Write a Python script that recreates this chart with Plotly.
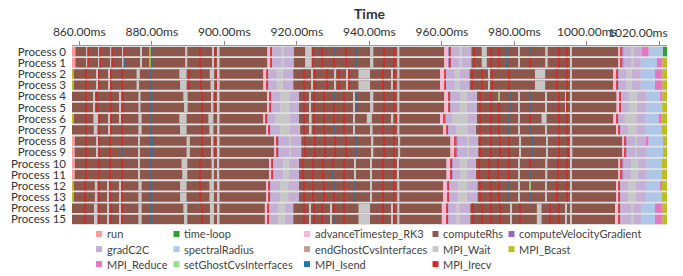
import plotly.graph_objects as go

# ---------------- data ----------------
process_labels = ["Process %d" % i for i in range(16)]

function_names = {
    "R": "run", "T": "time-loop", "A": "advanceTimestep_RK3", "C": "computeRhs",
    "V": "computeVelocityGradient", "G": "gradC2C", "S": "spectralRadius",
    "E": "endGhostCvsInterfaces", "W": "MPI_Wait", "B": "MPI_Bcast",
    "D": "MPI_Reduce", "X": "setGhostCvsInterfaces", "I": "MPI_Isend", "Q": "MPI_Irecv",
}
function_colors = {
    "R": "#ff9896", "T": "#2ca02c", "A": "#f7b6d2", "C": "#8c564b",
    "V": "#9467bd", "G": "#c5b0d5", "S": "#aec7e8", "E": "#c49c94",
    "W": "#c7c7c7", "B": "#bcbd22", "D": "#e377c2", "X": "#98df8a",
    "I": "#1f77b4", "Q": "#d62728",
}
legend_order = ["R", "T", "A", "C", "V", "G", "S", "E", "W", "B", "D", "X", "I", "Q"]

tick_values = [860, 880, 900, 920, 940, 960, 980, 1000, 1020]
tick_labels = ["860.00ms", "880.00ms", "900.00ms", "920.00ms", "940.00ms",
               "960.00ms", "980.00ms", "1000.00ms", "1020.00ms"]

# (start ms, end ms, function code)
p0 = [
    (858.0, 858.9, "R"), (858.9, 911.9, "C"),
    (862.0, 862.2, "W"), (862.2, 862.5, "Q"), (865.3, 865.5, "W"), (865.5, 865.8, "Q"),
    (868.7, 868.9, "W"), (868.9, 869.2, "Q"), (871.9, 872.1, "W"), (872.1, 872.4, "Q"),
    (876.9, 877.3, "W"), (879.5, 879.7, "B"), (879.7, 880.3, "I"), (889.2, 889.8, "W"),
    (893.3, 893.6, "Q"), (896.8, 897.2, "W"), (897.4, 897.7, "Q"), (898.2, 898.7, "W"),
    (911.9, 912.7, "A"), (912.7, 913.0, "Q"), (913.0, 913.1, "V"),
    (913.1, 915.8, "G"), (915.8, 916.3, "W"), (916.3, 919.1, "G"),
    (919.1, 960.7, "C"),
    (922.3, 924.1, "W"), (924.4, 924.7, "Q"), (926.7, 927.0, "Q"), (930.1, 930.4, "I"),
    (933.3, 933.6, "Q"), (936.1, 936.5, "I"), (940.2, 941.1, "W"), (943.9, 944.2, "Q"),
    (946.6, 947.0, "Q"), (947.7, 948.3, "W"),
    (960.7, 961.8, "A"), (961.8, 962.1, "V"), (962.1, 962.4, "Q"),
    (962.4, 965.0, "G"), (965.0, 965.5, "W"), (965.5, 968.1, "G"),
    (968.1, 1008.7, "C"),
    (968.7, 969.0, "Q"), (971.0, 972.4, "W"), (973.3, 973.6, "Q"), (975.6, 975.9, "Q"),
    (977.9, 978.3, "I"), (981.1, 981.4, "W"), (984.3, 984.7, "I"), (988.5, 989.2, "W"),
    (992.1, 992.4, "Q"), (994.4, 994.8, "Q"), (995.4, 995.8, "W"),
    (1008.7, 1009.3, "A"), (1009.3, 1009.7, "Q"), (1009.7, 1010.1, "V"),
    (1010.1, 1012.4, "G"), (1012.4, 1012.8, "W"), (1012.8, 1015.1, "G"),
    (1015.1, 1017.0, "D"), (1017.0, 1021.0, "S"), (1021.0, 1022.2, "T"),
]
p1 = [
    (858.0, 858.9, "R"), (858.9, 911.9, "C"),
    (862.0, 862.2, "W"), (862.2, 862.5, "Q"), (865.3, 865.5, "W"), (865.5, 865.8, "Q"),
    (868.7, 868.9, "W"), (868.9, 869.2, "Q"), (871.9, 872.1, "W"), (872.1, 872.5, "I"),
    (876.9, 877.3, "W"), (879.5, 879.7, "B"), (879.7, 880.3, "I"), (889.2, 889.8, "W"),
    (893.3, 893.6, "Q"), (896.8, 897.2, "W"), (897.4, 897.7, "Q"), (898.2, 898.7, "W"),
    (911.9, 912.7, "A"), (912.7, 913.0, "Q"), (913.0, 913.1, "V"),
    (913.1, 915.8, "G"), (915.8, 916.3, "W"), (916.3, 919.1, "G"),
    (919.1, 960.7, "C"),
    (922.3, 924.1, "W"), (924.4, 924.7, "Q"), (926.7, 927.0, "Q"), (930.1, 930.4, "Q"),
    (933.3, 933.6, "Q"), (936.1, 936.5, "I"), (940.2, 941.1, "W"), (943.9, 944.2, "Q"),
    (946.6, 947.0, "Q"), (947.7, 948.3, "W"),
    (960.7, 961.8, "A"), (961.8, 962.1, "V"), (962.1, 962.4, "Q"),
    (962.4, 965.0, "G"), (965.0, 965.5, "W"), (965.5, 968.1, "G"),
    (968.1, 1008.7, "C"),
    (968.7, 969.0, "Q"), (971.0, 972.4, "W"), (973.3, 973.6, "Q"), (975.6, 975.9, "Q"),
    (977.9, 978.3, "I"), (981.1, 981.4, "W"), (984.3, 984.7, "Q"), (988.5, 989.2, "W"),
    (992.1, 992.4, "Q"), (994.4, 994.8, "Q"), (995.4, 995.8, "W"),
    (1008.7, 1009.3, "A"), (1009.3, 1009.7, "Q"), (1009.7, 1010.1, "V"),
    (1010.1, 1012.4, "G"), (1012.4, 1012.8, "W"), (1012.8, 1015.1, "G"),
    (1015.1, 1019.3, "S"), (1019.3, 1020.8, "D"), (1020.8, 1022.2, "B"),
]
p2 = [
    (857.8, 858.4, "B"), (858.4, 910.8, "C"),
    (861.8, 862.1, "Q"), (864.8, 865.1, "W"), (865.25, 865.5, "Q"), (868.0, 868.3, "W"),
    (868.5, 868.8, "Q"), (871.7, 872.0, "Q"), (875.8, 876.7, "W"), (879.3, 879.8, "I"),
    (887.6, 889.6, "W"), (890.1, 890.4, "Q"), (893.5, 893.8, "Q"), (896.0, 897.2, "W"),
    (897.6, 897.9, "Q"), (898.2, 898.7, "W"),
    (910.8, 911.6, "A"), (911.6, 911.9, "Q"), (911.9, 912.1, "V"),
    (912.1, 914.5, "G"), (914.5, 916.1, "W"), (916.1, 919.0, "G"),
    (919.0, 959.5, "C"),
    (921.8, 922.1, "Q"), (924.1, 924.3, "W"), (925.0, 925.3, "Q"), (928.2, 928.5, "Q"),
    (930.5, 930.8, "W"), (931.45, 931.75, "Q"), (933.75, 934.0, "W"), (934.2, 934.5, "Q"),
    (937.0, 940.2, "W"), (943.7, 944.0, "Q"), (946.2, 946.4, "W"), (946.6, 946.9, "Q"),
    (947.7, 948.3, "W"),
    (959.5, 960.6, "A"), (960.6, 960.9, "Q"), (960.9, 961.1, "V"),
    (961.1, 963.6, "G"), (963.6, 964.9, "W"), (964.9, 967.6, "G"),
    (967.6, 1007.3, "C"),
    (968.2, 968.5, "Q"), (971.0, 971.3, "Q"), (972.8, 973.3, "W"), (973.75, 974.05, "Q"),
    (978.35, 978.65, "Q"), (985.7, 988.5, "W"), (991.7, 992.0, "Q"), (994.4, 994.7, "Q"),
    (995.4, 995.8, "W"),
    (1007.3, 1008.2, "A"), (1008.2, 1008.5, "Q"), (1008.5, 1008.7, "V"),
    (1008.7, 1011.0, "G"), (1011.0, 1012.4, "W"), (1012.4, 1014.9, "G"),
    (1014.9, 1018.8, "S"), (1018.8, 1020.8, "D"), (1020.8, 1022.2, "B"),
]
p3 = [
    (857.8, 858.4, "B"), (858.4, 910.8, "C"),
    (861.8, 862.1, "Q"), (864.8, 865.1, "W"), (865.25, 865.5, "Q"), (868.0, 868.3, "W"),
    (868.5, 868.8, "Q"), (871.7, 872.0, "Q"), (875.8, 876.5, "W"), (879.3, 879.8, "I"),
    (887.8, 889.6, "W"), (890.1, 890.4, "Q"), (893.5, 893.8, "Q"), (896.2, 897.2, "W"),
    (897.6, 897.9, "Q"), (898.2, 898.7, "W"),
    (910.8, 911.6, "A"), (911.6, 911.9, "Q"), (911.9, 912.1, "V"),
    (912.1, 914.5, "G"), (914.5, 916.1, "W"), (916.1, 919.0, "G"),
    (919.0, 959.5, "C"),
    (921.8, 922.1, "Q"), (924.1, 924.3, "W"), (925.0, 925.3, "Q"), (928.2, 928.5, "Q"),
    (930.5, 930.8, "W"), (931.45, 931.75, "Q"), (933.75, 934.0, "W"), (934.2, 934.5, "Q"),
    (937.0, 940.2, "W"), (943.7, 944.0, "Q"), (946.2, 946.4, "W"), (946.6, 946.9, "Q"),
    (947.7, 948.3, "W"),
    (959.5, 960.6, "A"), (960.6, 960.9, "Q"), (960.9, 961.1, "V"),
    (961.1, 963.6, "G"), (963.6, 964.9, "W"), (964.9, 967.6, "G"),
    (967.6, 1007.3, "C"),
    (968.2, 968.5, "Q"), (971.0, 971.3, "Q"), (972.8, 973.3, "W"), (973.75, 974.05, "Q"),
    (978.35, 978.65, "Q"), (985.7, 988.5, "W"), (991.7, 992.0, "Q"), (994.4, 994.7, "Q"),
    (995.4, 995.8, "W"),
    (1007.3, 1008.2, "A"), (1008.2, 1008.5, "Q"), (1008.5, 1008.7, "V"),
    (1008.7, 1011.0, "G"), (1011.0, 1012.4, "W"), (1012.4, 1014.9, "G"),
    (1014.9, 1018.8, "S"), (1018.8, 1020.8, "D"), (1020.8, 1022.2, "B"),
]
p4 = [
    (858.0, 911.9, "C"),
    (861.6, 861.9, "Q"), (863.9, 864.3, "W"), (864.8, 865.1, "Q"), (868.5, 868.8, "Q"),
    (871.2, 871.4, "W"), (871.96, 872.3, "Q"), (876.3, 876.9, "W"), (879.5, 880.2, "I"),
    (888.7, 889.9, "W"), (893.75, 894.05, "Q"), (896.5, 897.0, "W"), (897.4, 897.7, "Q"),
    (898.2, 898.7, "W"),
    (911.9, 912.4, "A"), (912.4, 912.7, "Q"), (912.7, 913.0, "V"),
    (913.0, 915.4, "G"), (915.4, 917.9, "W"), (917.9, 920.6, "G"),
    (920.6, 960.7, "C"),
    (921.8, 922.1, "Q"), (923.6, 923.9, "W"), (924.56, 924.9, "Q"), (927.3, 927.6, "Q"),
    (930.07, 930.4, "I"), (932.8, 933.1, "Q"), (935.6, 935.9, "W"), (936.05, 936.4, "I"),
    (940.2, 941.1, "W"), (943.87, 944.2, "Q"), (946.6, 946.9, "Q"), (947.7, 948.3, "W"),
    (960.7, 961.8, "A"), (961.8, 962.1, "Q"), (962.1, 962.4, "V"),
    (962.4, 965.0, "G"), (965.0, 966.9, "W"), (966.9, 969.6, "G"),
    (969.6, 1008.2, "C"),
    (970.5, 970.8, "Q"), (973.3, 973.6, "Q"), (975.6, 975.9, "X"), (978.8, 979.1, "I"),
    (981.1, 981.4, "W"), (984.3, 984.6, "I"), (988.5, 988.9, "W"), (992.1, 992.4, "Q"),
    (994.0, 994.2, "W"), (994.44, 994.7, "Q"), (995.4, 995.8, "W"),
    (1008.2, 1008.9, "A"), (1008.9, 1009.2, "Q"), (1009.2, 1009.4, "V"),
    (1009.4, 1011.6, "G"), (1011.6, 1013.75, "W"), (1013.75, 1016.5, "G"),
    (1016.5, 1020.2, "S"), (1020.2, 1020.8, "D"), (1020.8, 1022.2, "B"),
]
p5 = [
    (858.0, 911.9, "C"),
    (861.6, 861.9, "Q"), (863.9, 864.3, "W"), (864.8, 865.1, "Q"), (868.5, 868.8, "Q"),
    (871.2, 871.4, "W"), (871.96, 872.3, "Q"), (876.3, 876.9, "W"), (879.5, 880.2, "I"),
    (888.9, 889.9, "W"), (893.75, 894.05, "Q"), (896.5, 897.0, "W"), (897.4, 897.7, "Q"),
    (898.2, 898.7, "W"),
    (911.9, 912.4, "A"), (912.4, 912.7, "Q"), (912.7, 913.0, "V"),
    (913.0, 915.4, "G"), (915.4, 917.9, "W"), (917.9, 920.6, "G"),
    (920.6, 960.7, "C"),
    (921.8, 922.1, "Q"), (923.6, 923.9, "W"), (924.56, 924.9, "Q"), (927.3, 927.6, "Q"),
    (930.07, 930.4, "Q"), (932.8, 933.1, "Q"), (935.6, 935.9, "W"), (936.05, 936.4, "I"),
    (940.2, 941.1, "W"), (943.87, 944.2, "Q"), (946.6, 946.9, "Q"), (947.7, 948.3, "W"),
    (960.7, 961.8, "A"), (961.8, 962.1, "Q"), (962.1, 962.4, "V"),
    (962.4, 965.0, "G"), (965.0, 966.9, "W"), (966.9, 969.6, "G"),
    (969.6, 1008.2, "C"),
    (970.5, 970.8, "Q"), (973.3, 973.6, "Q"), (975.6, 975.9, "Q"), (978.8, 979.1, "I"),
    (981.1, 981.4, "W"), (984.3, 984.6, "I"), (988.5, 988.9, "W"), (992.1, 992.4, "Q"),
    (994.0, 994.2, "W"), (994.44, 994.7, "Q"), (995.4, 995.8, "W"),
    (1008.2, 1008.9, "A"), (1008.9, 1009.2, "Q"), (1009.2, 1009.4, "V"),
    (1009.4, 1011.6, "G"), (1011.6, 1013.75, "W"), (1013.75, 1016.5, "G"),
    (1016.5, 1020.8, "S"), (1020.8, 1022.2, "B"),
]
p6 = [
    (857.8, 858.4, "B"), (858.4, 910.8, "C"),
    (861.6, 861.9, "Q"), (863.9, 865.2, "W"), (865.25, 865.55, "Q"), (868.0, 868.3, "W"),
    (868.5, 868.8, "Q"), (871.2, 871.4, "W"), (871.7, 872.0, "Q"), (876.3, 877.2, "W"),
    (879.6, 880.1, "I"), (887.6, 889.6, "W"), (893.75, 894.05, "Q"), (895.6, 897.0, "W"),
    (898.2, 898.7, "W"),
    (910.8, 911.4, "A"), (911.4, 911.7, "Q"), (911.7, 912.0, "V"),
    (912.0, 914.0, "G"), (914.0, 918.1, "W"), (918.1, 920.6, "G"),
    (920.6, 959.5, "C"),
    (921.8, 922.1, "Q"), (923.6, 924.1, "W"), (924.56, 924.9, "Q"), (927.3, 927.6, "Q"),
    (930.1, 930.4, "Q"), (932.8, 933.1, "Q"), (935.6, 936.0, "W"), (939.3, 940.7, "W"),
    (943.7, 944.0, "Q"), (946.2, 946.6, "W"), (947.1, 947.4, "Q"), (947.7, 948.3, "W"),
    (959.5, 960.4, "A"), (960.4, 960.9, "Q"), (960.9, 961.15, "V"),
    (961.15, 963.0, "G"), (963.0, 967.0, "W"), (967.0, 969.6, "G"),
    (969.6, 1007.3, "C"),
    (970.5, 970.8, "Q"), (973.3, 973.6, "Q"), (975.6, 975.9, "Q"), (978.0, 978.3, "I"),
    (981.1, 981.4, "W"), (984.3, 984.6, "Q"), (987.5, 988.9, "W"), (992.1, 992.4, "Q"),
    (994.44, 994.7, "Q"), (995.4, 995.8, "W"),
    (1007.3, 1008.2, "A"), (1008.2, 1008.5, "Q"), (1008.5, 1008.7, "V"),
    (1008.7, 1010.5, "G"), (1010.5, 1013.6, "W"), (1013.6, 1016.05, "G"),
    (1016.05, 1019.8, "S"), (1019.8, 1020.65, "D"), (1020.65, 1022.2, "B"),
]
p7 = [
    (858.0, 911.7, "C"),
    (861.6, 861.9, "Q"), (864.0, 865.0, "W"), (865.25, 865.55, "Q"), (868.0, 868.3, "W"),
    (868.5, 868.8, "Q"), (871.7, 872.0, "Q"), (876.3, 877.2, "W"), (879.6, 880.1, "I"),
    (887.8, 889.6, "W"), (893.75, 894.05, "Q"), (895.9, 897.0, "W"), (898.2, 898.7, "W"),
    (911.7, 912.2, "A"), (912.2, 912.5, "Q"), (912.5, 912.7, "V"),
    (912.7, 915.4, "G"), (915.4, 918.1, "W"), (918.1, 920.9, "G"),
    (920.9, 960.4, "C"),
    (921.8, 922.1, "Q"), (923.6, 924.1, "W"), (924.56, 924.9, "Q"), (927.3, 927.6, "Q"),
    (930.1, 930.4, "I"), (932.8, 933.1, "Q"), (935.6, 936.0, "W"), (940.2, 940.9, "W"),
    (943.7, 944.0, "Q"), (946.6, 946.9, "Q"), (947.7, 948.3, "W"),
    (960.4, 961.15, "A"), (961.15, 961.5, "Q"), (961.5, 961.8, "V"),
    (961.8, 964.1, "G"), (964.1, 967.0, "W"), (967.0, 969.4, "G"),
    (969.4, 1008.05, "C"),
    (970.5, 970.8, "Q"), (973.3, 973.6, "Q"), (975.6, 975.9, "Q"), (978.0, 978.3, "I"),
    (981.1, 981.4, "W"), (984.3, 984.6, "I"), (988.5, 988.9, "W"), (992.1, 992.4, "Q"),
    (994.44, 994.7, "Q"), (995.4, 995.8, "W"),
    (1008.05, 1008.7, "A"), (1008.7, 1009.0, "Q"), (1009.0, 1009.15, "V"),
    (1009.15, 1011.45, "G"), (1011.45, 1013.6, "W"), (1013.6, 1016.05, "G"),
    (1016.05, 1020.65, "S"), (1020.65, 1022.2, "B"),
]
p8 = [
    (858.0, 858.7, "R"), (858.7, 913.8, "C"),
    (861.84, 862.1, "Q"), (864.8, 865.0, "W"), (865.25, 865.5, "Q"), (868.46, 868.7, "Q"),
    (871.7, 872.0, "Q"), (876.3, 876.6, "W"), (879.5, 880.4, "I"), (889.6, 890.5, "W"),
    (893.75, 894.0, "Q"), (896.5, 897.0, "W"), (897.4, 897.7, "Q"), (898.2, 898.7, "W"),
    (913.8, 914.4, "A"), (914.4, 914.7, "Q"), (914.7, 915.1, "V"),
    (915.1, 918.1, "G"), (918.1, 918.4, "W"), (918.4, 921.2, "G"),
    (921.2, 962.4, "C"),
    (922.1, 922.4, "Q"), (925.0, 925.3, "Q"), (927.6, 927.9, "Q"), (930.4, 930.7, "Q"),
    (933.3, 933.6, "Q"), (936.1, 936.4, "I"), (940.65, 941.1, "W"), (943.87, 944.2, "Q"),
    (946.6, 946.9, "Q"), (948.0, 948.5, "W"),
    (962.4, 963.6, "A"), (963.6, 964.0, "Q"), (964.0, 964.3, "V"),
    (964.3, 967.0, "G"), (967.0, 967.3, "W"), (967.3, 970.0, "G"),
    (970.0, 1009.8, "C"),
    (970.5, 970.8, "Q"), (973.5, 973.8, "Q"), (975.9, 976.2, "Q"), (978.3, 978.6, "Q"),
    (981.4, 981.7, "W"), (984.6, 984.9, "I"), (988.9, 989.2, "W"), (992.1, 992.4, "Q"),
    (994.6, 994.9, "Q"), (995.6, 996.0, "W"),
    (1009.8, 1010.5, "A"), (1010.5, 1010.8, "Q"), (1010.8, 1011.0, "V"),
    (1011.0, 1013.5, "G"), (1013.5, 1013.75, "W"), (1013.75, 1016.24, "G"),
    (1016.24, 1016.97, "D"), (1016.97, 1021.0, "S"), (1021.0, 1022.2, "B"),
]
p9 = [
    (858.0, 858.7, "R"), (858.7, 913.8, "C"),
    (861.84, 862.1, "Q"), (864.8, 865.0, "W"), (865.25, 865.5, "Q"), (868.46, 868.7, "Q"),
    (871.7, 872.0, "I"), (876.3, 876.6, "W"), (879.5, 880.4, "I"), (889.6, 890.5, "W"),
    (893.75, 894.0, "Q"), (896.5, 897.0, "W"), (897.4, 897.7, "Q"), (898.2, 898.7, "W"),
    (913.8, 914.4, "A"), (914.4, 914.7, "Q"), (914.7, 915.1, "V"),
    (915.1, 918.1, "G"), (918.1, 918.4, "W"), (918.4, 921.2, "G"),
    (921.2, 962.4, "C"),
    (922.1, 922.4, "Q"), (925.0, 925.3, "Q"), (927.6, 927.9, "Q"), (930.4, 930.7, "Q"),
    (933.3, 933.6, "Q"), (936.1, 936.4, "I"), (940.65, 941.1, "W"), (943.87, 944.2, "Q"),
    (946.6, 946.9, "Q"), (948.0, 948.5, "W"),
    (962.4, 963.6, "A"), (963.6, 964.0, "Q"), (964.0, 964.3, "V"),
    (964.3, 967.0, "G"), (967.0, 967.3, "W"), (967.3, 970.0, "G"),
    (970.0, 1009.8, "C"),
    (970.5, 970.8, "Q"), (973.5, 973.8, "Q"), (975.9, 976.2, "Q"), (978.3, 978.6, "Q"),
    (981.4, 981.7, "W"), (984.6, 984.9, "I"), (988.9, 989.2, "W"), (992.1, 992.4, "Q"),
    (994.6, 994.9, "Q"), (995.6, 996.0, "W"),
    (1009.8, 1010.5, "A"), (1010.5, 1010.8, "Q"), (1010.8, 1011.0, "V"),
    (1011.0, 1013.5, "G"), (1013.5, 1013.75, "W"), (1013.75, 1016.5, "G"),
    (1016.5, 1021.0, "S"), (1021.0, 1022.2, "B"),
]
p10 = [
    (858.0, 858.7, "R"), (858.7, 912.4, "C"),
    (861.84, 862.1, "Q"), (865.25, 865.5, "Q"), (868.46, 868.7, "Q"), (871.7, 872.0, "Q"),
    (876.3, 876.7, "W"), (879.2, 879.8, "I"), (888.2, 889.8, "W"), (893.3, 893.6, "Q"),
    (896.5, 897.15, "W"), (898.2, 898.6, "W"),
    (912.4, 912.9, "A"), (912.9, 913.2, "Q"), (913.2, 913.5, "V"),
    (913.5, 916.3, "G"), (916.3, 917.8, "W"), (917.8, 920.6, "G"),
    (920.6, 961.3, "C"),
    (921.5, 921.8, "Q"), (924.3, 924.6, "Q"), (927.0, 927.3, "Q"), (929.8, 930.1, "Q"),
    (932.8, 933.1, "Q"), (936.0, 936.3, "W"), (940.2, 940.6, "W"), (943.7, 944.0, "Q"),
    (946.6, 946.9, "Q"), (947.7, 948.0, "W"),
    (961.3, 962.4, "A"), (962.4, 962.7, "Q"), (962.7, 963.0, "V"),
    (963.0, 965.0, "G"), (965.0, 966.9, "W"), (966.9, 969.4, "G"),
    (969.4, 1008.7, "C"),
    (970.2, 970.5, "Q"), (973.0, 973.3, "Q"), (975.3, 975.6, "Q"), (978.3, 978.6, "Q"),
    (981.1, 981.4, "W"), (984.3, 984.6, "Q"), (988.5, 989.1, "W"), (991.9, 992.2, "Q"),
    (994.4, 994.7, "Q"), (995.4, 995.8, "W"),
    (1008.7, 1009.4, "A"), (1009.4, 1009.7, "Q"), (1009.7, 1010.07, "V"),
    (1010.07, 1012.2, "G"), (1012.2, 1014.0, "W"), (1014.0, 1016.5, "G"),
    (1016.5, 1020.65, "S"), (1020.65, 1022.2, "B"),
]
p11 = [
    (858.0, 858.7, "R"), (858.7, 912.4, "C"),
    (861.84, 862.1, "Q"), (865.25, 865.5, "Q"), (868.46, 868.7, "Q"), (871.7, 872.0, "Q"),
    (876.3, 876.7, "W"), (879.2, 879.8, "I"), (888.4, 889.8, "W"), (893.3, 893.6, "Q"),
    (896.5, 897.15, "W"), (898.2, 898.6, "W"),
    (912.4, 912.9, "A"), (912.9, 913.2, "Q"), (913.2, 913.5, "V"),
    (913.5, 916.3, "G"), (916.3, 917.8, "W"), (917.8, 920.6, "G"),
    (920.6, 961.3, "C"),
    (921.5, 921.8, "Q"), (924.3, 924.6, "Q"), (927.0, 927.3, "Q"), (929.8, 930.1, "I"),
    (932.8, 933.1, "Q"), (936.0, 936.3, "W"), (940.2, 940.6, "W"), (943.7, 944.0, "Q"),
    (946.6, 946.9, "Q"), (947.7, 948.0, "W"),
    (961.3, 962.4, "A"), (962.4, 962.7, "Q"), (962.7, 963.0, "V"),
    (963.0, 965.0, "G"), (965.0, 966.9, "W"), (966.9, 969.4, "G"),
    (969.4, 1008.7, "C"),
    (970.2, 970.5, "Q"), (973.0, 973.3, "Q"), (975.3, 975.6, "Q"), (978.3, 978.6, "Q"),
    (981.1, 981.4, "W"), (984.3, 984.6, "I"), (988.5, 989.1, "W"), (991.9, 992.2, "Q"),
    (994.4, 994.7, "Q"), (995.4, 995.8, "W"),
    (1008.7, 1009.4, "A"), (1009.4, 1009.7, "Q"), (1009.7, 1010.07, "V"),
    (1010.07, 1012.2, "G"), (1012.2, 1014.0, "W"), (1014.0, 1016.5, "G"),
    (1016.5, 1020.65, "S"), (1020.65, 1022.2, "B"),
]
p12 = [
    (857.8, 858.4, "B"), (858.4, 911.7, "C"),
    (861.57, 861.9, "Q"), (864.3, 865.0, "W"), (865.25, 865.5, "Q"), (867.7, 868.0, "W"),
    (868.46, 868.7, "Q"), (871.2, 871.4, "W"), (871.7, 872.0, "Q"), (876.3, 877.2, "W"),
    (879.5, 880.2, "I"), (887.8, 889.6, "W"), (893.3, 893.6, "Q"), (895.9, 897.15, "W"),
    (898.2, 898.7, "W"),
    (911.7, 912.2, "A"), (912.2, 912.5, "Q"), (912.5, 912.7, "V"),
    (912.7, 915.4, "G"), (915.4, 917.6, "W"), (917.6, 920.6, "G"),
    (920.6, 960.4, "C"),
    (921.8, 922.1, "Q"), (924.3, 924.6, "Q"), (927.3, 927.6, "Q"), (930.1, 930.4, "I"),
    (933.0, 933.3, "Q"), (935.9, 936.2, "I"), (940.2, 940.7, "W"), (943.7, 944.0, "Q"),
    (946.6, 946.9, "Q"), (947.7, 948.3, "W"),
    (960.4, 961.5, "A"), (961.5, 961.8, "Q"), (961.8, 962.07, "V"),
    (962.07, 964.6, "G"), (964.6, 966.9, "W"), (966.9, 969.8, "G"),
    (969.8, 1008.05, "C"),
    (970.5, 970.8, "Q"), (973.3, 973.6, "Q"), (975.6, 975.9, "Q"), (978.0, 978.3, "I"),
    (981.1, 981.4, "W"), (984.3, 984.6, "X"), (988.5, 989.0, "W"), (991.7, 992.0, "Q"),
    (994.4, 994.7, "Q"), (995.4, 995.8, "W"),
    (1008.05, 1008.7, "A"), (1008.7, 1009.0, "Q"), (1009.0, 1009.15, "V"),
    (1009.15, 1011.45, "G"), (1011.45, 1013.4, "W"), (1013.4, 1016.3, "G"),
    (1016.3, 1020.3, "S"), (1020.3, 1020.7, "D"), (1020.7, 1022.2, "B"),
]
p13 = [
    (857.8, 858.4, "B"), (858.4, 911.7, "C"),
    (861.57, 861.9, "Q"), (864.3, 865.0, "W"), (865.25, 865.5, "Q"), (867.7, 868.0, "W"),
    (868.46, 868.7, "Q"), (871.2, 871.4, "W"), (871.7, 872.0, "Q"), (876.3, 877.2, "W"),
    (879.5, 880.2, "I"), (887.8, 889.6, "W"), (893.3, 893.6, "Q"), (895.9, 897.15, "W"),
    (898.2, 898.7, "W"),
    (911.7, 912.2, "A"), (912.2, 912.5, "Q"), (912.5, 912.7, "V"),
    (912.7, 915.4, "G"), (915.4, 917.6, "W"), (917.6, 920.6, "G"),
    (920.6, 960.4, "C"),
    (921.8, 922.1, "Q"), (924.3, 924.6, "Q"), (927.3, 927.6, "Q"), (930.1, 930.4, "Q"),
    (933.0, 933.3, "Q"), (935.9, 936.2, "I"), (940.2, 940.7, "W"), (943.7, 944.0, "Q"),
    (946.6, 946.9, "Q"), (947.7, 948.3, "W"),
    (960.4, 961.5, "A"), (961.5, 961.8, "Q"), (961.8, 962.07, "V"),
    (962.07, 964.6, "G"), (964.6, 966.9, "W"), (966.9, 969.8, "G"),
    (969.8, 1008.05, "C"),
    (970.5, 970.8, "Q"), (973.3, 973.6, "Q"), (975.6, 975.9, "Q"), (978.0, 978.3, "I"),
    (981.1, 981.4, "W"), (984.3, 984.6, "I"), (988.5, 989.0, "W"), (991.7, 992.0, "Q"),
    (994.4, 994.7, "Q"), (995.4, 995.8, "W"),
    (1008.05, 1008.7, "A"), (1008.7, 1009.0, "Q"), (1009.0, 1009.15, "V"),
    (1009.15, 1011.45, "G"), (1011.45, 1013.4, "W"), (1013.4, 1016.3, "G"),
    (1016.3, 1020.7, "S"), (1020.7, 1022.2, "B"),
]
p14 = [
    (858.0, 911.2, "C"),
    (861.57, 861.9, "Q"), (864.05, 865.0, "W"), (865.25, 865.5, "Q"), (867.7, 868.2, "W"),
    (868.65, 868.9, "Q"), (871.2, 871.4, "W"), (871.7, 872.0, "Q"), (876.3, 877.2, "W"),
    (879.5, 880.2, "I"), (888.7, 889.8, "W"), (893.75, 894.0, "Q"), (896.05, 897.15, "W"),
    (898.2, 898.7, "W"),
    (911.2, 911.8, "A"), (911.8, 912.1, "Q"), (912.1, 912.4, "V"),
    (912.4, 914.9, "G"), (914.9, 916.7, "W"), (916.7, 919.0, "G"),
    (919.0, 960.0, "C"),
    (921.8, 922.1, "Q"), (923.6, 923.8, "W"), (924.6, 924.9, "Q"), (926.9, 927.2, "Q"),
    (929.2, 929.5, "W"), (930.1, 930.4, "Q"), (933.0, 933.3, "Q"), (937.0, 940.2, "W"),
    (943.7, 944.0, "Q"), (946.2, 946.5, "W"), (946.6, 946.9, "Q"), (947.7, 948.3, "W"),
    (960.0, 961.15, "A"), (961.15, 961.5, "Q"), (961.5, 961.8, "V"),
    (961.8, 964.1, "G"), (964.1, 964.8, "W"), (964.8, 967.8, "G"),
    (967.8, 1007.8, "C"),
    (968.4, 968.7, "Q"), (971.0, 971.3, "Q"), (973.5, 973.8, "Q"), (976.0, 976.3, "Q"),
    (979.0, 979.3, "W"), (981.5, 981.8, "Q"), (986.2, 987.5, "W"), (989.6, 989.9, "Q"),
    (992.1, 992.4, "Q"), (994.0, 994.3, "W"), (995.4, 995.8, "W"),
    (1007.8, 1008.7, "A"), (1008.7, 1009.0, "Q"), (1009.0, 1009.15, "V"),
    (1009.15, 1012.4, "G"), (1012.4, 1012.8, "W"), (1012.8, 1015.1, "G"),
    (1015.1, 1018.8, "S"), (1018.8, 1020.8, "D"), (1020.8, 1022.2, "B"),
]
p15 = [
    (858.0, 911.2, "C"),
    (861.57, 861.9, "Q"), (864.05, 865.0, "W"), (865.25, 865.5, "Q"), (867.7, 868.2, "W"),
    (868.65, 868.9, "Q"), (871.2, 871.4, "W"), (871.7, 872.0, "Q"), (876.3, 877.2, "W"),
    (879.5, 880.2, "I"), (888.9, 889.8, "W"), (893.75, 894.0, "Q"), (896.05, 897.15, "W"),
    (898.2, 898.7, "W"),
    (911.2, 911.8, "A"), (911.8, 912.1, "Q"), (912.1, 912.4, "V"),
    (912.4, 914.9, "G"), (914.9, 916.7, "W"), (916.7, 919.0, "G"),
    (919.0, 960.0, "C"),
    (921.8, 922.1, "Q"), (923.6, 923.8, "W"), (924.6, 924.9, "Q"), (926.9, 927.2, "Q"),
    (929.2, 929.5, "W"), (930.1, 930.4, "I"), (933.0, 933.3, "Q"), (937.0, 940.2, "W"),
    (943.7, 944.0, "Q"), (946.2, 946.5, "W"), (946.6, 946.9, "Q"), (947.7, 948.3, "W"),
    (960.0, 961.15, "A"), (961.15, 961.5, "Q"), (961.5, 961.8, "V"),
    (961.8, 964.1, "G"), (964.1, 964.8, "W"), (964.8, 967.8, "G"),
    (967.8, 1007.8, "C"),
    (968.4, 968.7, "Q"), (971.0, 971.3, "Q"), (973.5, 973.8, "Q"), (976.0, 976.3, "Q"),
    (979.0, 979.3, "W"), (981.5, 981.8, "Q"), (986.2, 987.5, "W"), (989.6, 989.9, "Q"),
    (992.1, 992.4, "Q"), (994.0, 994.3, "W"), (995.4, 995.8, "W"),
    (1007.8, 1008.7, "A"), (1008.7, 1009.0, "Q"), (1009.0, 1009.15, "V"),
    (1009.15, 1012.4, "G"), (1012.4, 1012.8, "W"), (1012.8, 1015.1, "G"),
    (1015.1, 1018.8, "S"), (1018.8, 1020.8, "D"), (1020.8, 1022.2, "B"),
]

process_segments = [p0, p1, p2, p3, p4, p5, p6, p7, p8, p9, p10, p11, p12, p13, p14, p15]

# ---------------- figure ----------------
FONT = "Lato, 'Open Sans', sans-serif"
fig = go.Figure()

trace_opacity = {"I": 0.55, "Q": 0.8, "V": 0.7, "X": 0.8}

draw_order = ["C", "R", "T", "A", "V", "G", "S", "E", "W", "B", "D", "X", "I", "Q"]
for code in draw_order:
    bases, widths, ys = [], [], []
    for label, segs in zip(process_labels, process_segments):
        for (s, e, c) in segs:
            if c == code:
                bases.append(s)
                widths.append(e - s)
                ys.append(label)
    if not bases:
        continue
    fig.add_trace(go.Bar(
        orientation="h", base=bases, x=widths, y=ys, width=0.84,
        name=function_names[code], opacity=trace_opacity.get(code, 1.0),
        marker=dict(color=function_colors[code], line=dict(width=0)),
        showlegend=False, hovertemplate=function_names[code] + "<extra></extra>",
    ))

# plot-area geometry in page pixels (page body margin is removed below)
FIG_W, FIG_H = 683, 276
L, R, T, B = 72, 667, 45.5, 225.0
W_PLOT, H_PLOT = R - L, B - T

def px(x):
    return (x - L) / W_PLOT

def py(y):
    return (B - y) / H_PLOT

# manual legend (5 columns x 3 rows, like the reference)
col_text_x = [104.5, 182.0, 312.5, 441.0, 517.0]
row_y = [234.0, 249.2, 264.2]
for idx, code in enumerate(legend_order):
    row, col = divmod(idx, 5)
    tx = col_text_x[col]
    cy = row_y[row]
    fig.add_shape(type="rect", xref="paper", yref="paper",
                  x0=px(tx - 8.5), x1=px(tx - 2.5), y0=py(cy + 3.0), y1=py(cy - 3.0),
                  fillcolor=function_colors[code], line=dict(width=0))
    fig.add_annotation(xref="paper", yref="paper", x=px(tx), y=py(cy),
                       text=function_names[code], showarrow=False,
                       xanchor="left", yanchor="middle",
                       font=dict(family=FONT, size=11, color="#444"))

# axis title
fig.add_annotation(xref="paper", yref="paper", x=0.5, y=py(13), text="<b>Time</b>",
                   showarrow=False, xanchor="center", yanchor="middle",
                   font=dict(family=FONT, size=14, color="#333"))
# last tick label is kept inside the chart (flush right), as in the reference
fig.add_annotation(xref="paper", yref="paper", x=px(669.5), y=py(31.5),
                   text=tick_labels[-1], showarrow=False, xanchor="right", yanchor="middle",
                   font=dict(family=FONT, size=12, color="#333"))

fig.update_layout(
    width=FIG_W, height=FIG_H,
    margin=dict(l=L, r=FIG_W - R, t=T, b=FIG_H - B, autoexpand=False),
    barmode="overlay",
    plot_bgcolor="#e2e2e2", paper_bgcolor="white",
    font=dict(family=FONT, size=12, color="#333"),
    xaxis=dict(side="top", range=[858.0, 1022.1], tickmode="array", tickvals=tick_values,
               ticktext=tick_labels[:-1] + [""], tickangle=0, automargin=False,
               ticks="outside", ticklen=4, tickcolor="#888", showgrid=False, zeroline=False,
               showline=True, linecolor="#999", linewidth=1,
               tickfont=dict(family=FONT, size=12, color="#333")),
    yaxis=dict(categoryorder="array", categoryarray=process_labels, autorange="reversed",
               tickmode="array", tickvals=process_labels, automargin=False,
               showgrid=False, zeroline=False, ticks="", ticklabelstandoff=5,
               tickfont=dict(family=FONT, size=11.5, color="#333")),
)

fig.write_html("out.html", config={"displayModeBar": False},
               post_script="document.body.style.margin='0';")
